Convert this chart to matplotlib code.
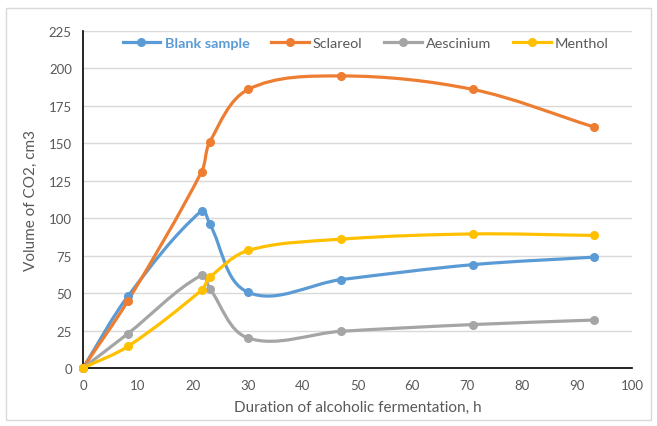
import matplotlib
matplotlib.use("Agg")
import matplotlib.pyplot as plt
from matplotlib.path import Path
from matplotlib.patches import PathPatch, Rectangle
from matplotlib.lines import Line2D
import numpy as np

plt.rcParams["font.family"] = ["Lato", "DejaVu Sans"]

hours = [0, 8.2, 21.6, 23.1, 30.1, 47, 71, 93]
blank = [0, 48, 105, 96, 50.5, 59, 69, 74]
sclareol = [0, 45, 131, 151, 186, 195, 186, 161]
aescinium = [0, 23, 62, 53, 20, 24.5, 29, 32]
menthol = [0, 14.5, 52, 60.5, 78.5, 86, 89.5, 88.5]

series = [
    ("Blank sample", blank, "#5B9BD5"),
    ("Sclareol", sclareol, "#ED7D31"),
    ("Aescinium", aescinium, "#A5A5A5"),
    ("Menthol", menthol, "#FFC000"),
]


def smooth_path(ax, x, y):
    # cubic Bezier through the points, tangents worked out in display space
    # and clamped to a third of each segment so short segments don't loop
    to_disp = ax.transData
    pts = to_disp.transform(np.column_stack([x, y]).astype(float))
    n = len(pts)
    tang = []
    for i in range(n):
        a = pts[max(i - 1, 0)]
        b = pts[min(i + 1, n - 1)]
        d = b - a
        tang.append(d / (np.hypot(*d) or 1.0))
    verts = [pts[0]]
    codes = [Path.MOVETO]
    for i in range(n - 1):
        p1, p2 = pts[i], pts[i + 1]
        L = np.hypot(*(p2 - p1)) / 3.0
        verts += [p1 + tang[i] * L, p2 - tang[i + 1] * L, p2]
        codes += [Path.CURVE4] * 3
    verts = to_disp.inverted().transform(np.array(verts))
    return Path(verts, codes)


fig = plt.figure(figsize=(6.57, 4.27), dpi=100)
ax = fig.add_axes([83 / 657, 58 / 427, 549 / 657, 337 / 427])
ax.set_xlim(0, 100)
ax.set_ylim(0, 225)

handles = []
for name, vals, col in series:
    patch = PathPatch(smooth_path(ax, hours, vals), facecolor="none", edgecolor=col,
                      linewidth=2.3, capstyle="round", joinstyle="round", zorder=3)
    ax.add_patch(patch)
    ax.plot(hours, vals, linestyle="none", marker="o", markersize=5.5,
            color=col, zorder=4, clip_on=False)
    handles.append(Line2D([], [], color=col, linewidth=2.3, marker="o", markersize=5.5))

ax.set_xticks(np.arange(0, 101, 10))
ax.set_yticks(np.arange(0, 226, 25))
ax.grid(axis="y", color="#D9D9D9", linewidth=1)
ax.set_axisbelow(True)
for side in ["top", "right"]:
    ax.spines[side].set_visible(False)
for side in ["left", "bottom"]:
    ax.spines[side].set_color("black")
    ax.spines[side].set_linewidth(1.2)
ax.tick_params(length=0, labelsize=9.5, colors="#595959", pad=8)
ax.set_xlabel("Duration of alcoholic fermentation, h", fontsize=11, color="#595959", labelpad=6)
ax.set_ylabel("Volume of CO2, cm3", fontsize=11, color="#595959", labelpad=8)

leg = ax.legend(handles, [s[0] for s in series], loc="upper center",
                bbox_to_anchor=(0.515, 1.0), ncol=4, frameon=False, fontsize=10.4,
                handlelength=2.6, columnspacing=1.5, handletextpad=0.3,
                borderaxespad=0.0)
for txt in leg.get_texts():
    txt.set_color("#595959")
leg.get_texts()[0].set_color("#5B9BD5")
leg.get_texts()[0].set_fontweight("bold")

fig.patches.append(Rectangle((6 / 657, 6 / 427), 645 / 657, 412 / 427,
                             transform=fig.transFigure, fill=False,
                             edgecolor="#D9D9D9", linewidth=1))

fig.savefig("out.png", dpi=100)
